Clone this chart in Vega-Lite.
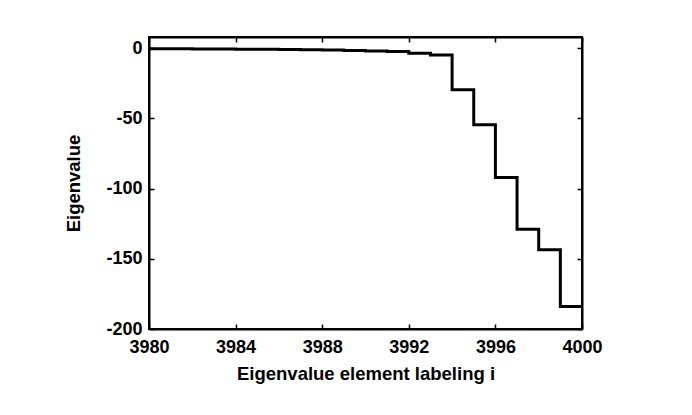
{
  "$schema": "https://vega.github.io/schema/vega-lite/v6.json",
  "width": 433,
  "height": 292,
  "autosize": {"type": "none"},
  "padding": {"left": 149, "top": 37, "right": 110, "bottom": 86},
  "background": "white",
  "config": {
    "view": {"stroke": "black", "strokeWidth": 2},
    "axis": {
      "domainColor": "black", "domainWidth": 2,
      "tickColor": "black", "tickWidth": 1.5, "tickSize": -5,
      "grid": false,
      "labelFont": "Liberation Sans", "labelFontWeight": "bold", "labelFontSize": 18, "labelColor": "black",
      "titleFont": "Liberation Sans", "titleFontWeight": "bold", "titleFontSize": 18.5, "titleColor": "black",
      "labelExpr": "toString(datum.value)"
    }
  },
  "data": {"values": [
    {"i": 3980, "v": -0.3},
    {"i": 3981, "v": -0.4},
    {"i": 3982, "v": -0.5},
    {"i": 3983, "v": -0.6},
    {"i": 3984, "v": -0.7},
    {"i": 3985, "v": -0.8},
    {"i": 3986, "v": -0.9},
    {"i": 3987, "v": -1.1},
    {"i": 3988, "v": -1.3},
    {"i": 3989, "v": -1.6},
    {"i": 3990, "v": -1.9},
    {"i": 3991, "v": -2.3},
    {"i": 3992, "v": -3.6},
    {"i": 3993, "v": -4.8},
    {"i": 3994, "v": -29.5},
    {"i": 3995, "v": -54.5},
    {"i": 3996, "v": -92},
    {"i": 3997, "v": -129},
    {"i": 3998, "v": -143.5},
    {"i": 3999, "v": -184},
    {"i": 4000, "v": -184}
  ]},
  "layer": [
    {
      "mark": {"type": "line", "interpolate": "step-after", "color": "black", "strokeWidth": 3, "clip": true},
      "encoding": {
        "x": {"field": "i", "type": "quantitative",
              "scale": {"domain": [3980, 4000], "nice": false, "zero": false},
              "axis": {"values": [3980, 3984, 3988, 3992, 3996, 4000], "title": "Eigenvalue element labeling i", "labelPadding": 14, "titlePadding": 8, "labelFlush": false}},
        "y": {"field": "v", "type": "quantitative",
              "scale": {"domain": [-200, 8], "nice": false, "zero": false},
              "axis": {"values": [0, -50, -100, -150, -200], "title": "Eigenvalue", "labelPadding": 12, "titlePadding": 22}}
      }
    },
    {
      "mark": {"type": "line", "opacity": 0},
      "encoding": {
        "x": {"field": "i", "type": "quantitative",
              "scale": {"domain": [3980, 4000], "nice": false, "zero": false},
              "axis": {"orient": "top", "values": [3980, 3984, 3988, 3992, 3996, 4000], "labels": false, "title": null}},
        "y": {"field": "v", "type": "quantitative",
              "scale": {"domain": [-200, 8], "nice": false, "zero": false},
              "axis": {"orient": "right", "values": [0, -50, -100, -150, -200], "labels": false, "title": null}}
      }
    }
  ],
  "resolve": {"axis": {"x": "independent", "y": "independent"}}
}
